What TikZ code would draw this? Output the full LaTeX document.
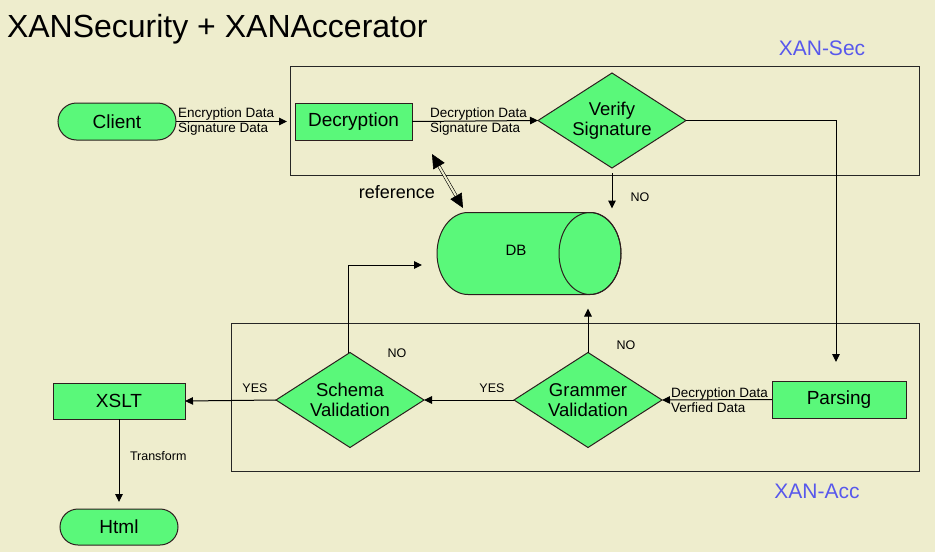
\documentclass[tikz,border=0pt]{standalone}
\usepackage{fontspec}
\setmainfont{Liberation Sans}
\usetikzlibrary{shapes.geometric,shapes.misc,arrows.meta}
\definecolor{paper}{RGB}{238,237,205}
\definecolor{boxgreen}{RGB}{90,248,122}
\definecolor{edge}{RGB}{45,30,30}
\definecolor{tagblue}{RGB}{88,88,236}
\begin{document}
\begin{tikzpicture}[x=1pt,y=-1pt,
  every node/.style={inner sep=0pt,outer sep=0pt},
  shapeline/.style={draw=edge,fill=boxgreen,line width=1pt},
  block/.style={shapeline,rectangle,font=\fontsize{19}{20}\selectfont},
  terminal/.style={shapeline,rounded rectangle,font=\fontsize{19}{20}\selectfont},
  decision/.style={shapeline,diamond,aspect=1.55,minimum width=148pt,minimum height=95pt,
    align=center,font=\fontsize{18.5}{20}\selectfont},
  frame/.style={draw=black!85,line width=1pt},
  flow/.style={draw=black,line width=1pt,-{Triangle[length=8pt,width=7.5pt]}},
  small/.style={font=\fontsize{13.5}{15}\selectfont},
  tag/.style={font=\fontsize{12.5}{14}\selectfont},
  zone/.style={font=\fontsize{21}{23}\selectfont,text=tagblue},
]
% page and frames
\fill[paper] (0,0) rectangle (935,552);
\useasboundingbox (0,0) rectangle (935,552);
\draw[frame] (290,66) rectangle (919,175);
\draw[frame] (231,323) rectangle (919,471);

% title and zone labels
\node[anchor=base west,font=\fontsize{32}{34}\selectfont] (title) at (7,37) {XANSecurity + XANAccerator};
\node[zone,anchor=base] (seclabel) at (822,55) {XAN-Sec};
\node[zone,anchor=base] (acclabel) at (817,498) {XAN-Acc};

% flow elements
\node[terminal,minimum width=118pt,minimum height=37pt] (client) at (117,121.5) {Client};
\node[block,minimum width=117pt,minimum height=37pt] (decrypt) at (353.5,121.5) {Decryption};
\node[decision] (verify) at (612,120.5) {Verify\\Signature};
\node[block,minimum width=134pt,minimum height=37pt] (parsing) at (839,399.5) {Parsing};
\node[decision] (grammar) at (588,400) {Grammer\\Validation};
\node[decision] (schema) at (350,400) {Schema\\Validation};
\node[block,minimum width=132pt,minimum height=36pt] (xslt) at (119,401) {XSLT};
\node[terminal,minimum width=118pt,minimum height=36pt] (html) at (119,527) {Html};

% database cylinder
\node[minimum width=184pt,minimum height=82pt] (db) at (529,253.5) {};
\path[shapeline] (468,212.5) -- (590,212.5) arc (-90:90:31 and 41)
  -- (468,294.5) arc (90:270:31 and 41) -- cycle;
\draw[draw=edge,line width=1pt] (590,253.5) ellipse (31 and 41);
\node[font=\fontsize{15}{17}\selectfont,anchor=base] (dblabel) at (516,255) {DB};

% connectors
\coordinate (verifyturn) at (836,362);
\coordinate (schemaend) at (422,265);
\coordinate (refa) at (432,154);
\coordinate (refb) at (463,208);

\draw[flow,shorten >=8pt] (client.east) -- (decrypt.west);
\node[small,anchor=base west] (enc1) at (178,117) {Encryption Data};
\node[small,anchor=base west] (enc2) at (178,132) {Signature Data};

\draw[flow] (decrypt.east) -- (verify.west);
\node[small,anchor=base west] (dec1) at (430,117) {Decryption Data};
\node[small,anchor=base west] (dec2) at (430,132) {Signature Data};

\draw[flow] (verify.east) -| (verifyturn);
\draw[flow,shorten <=5pt,shorten >=4pt] (verify.south) -- (verify.south |- db.north);
\node[tag,anchor=base] (no1) at (640,201) {NO};

\draw[line width=0.6pt,double=paper,double distance=2pt,
  {Triangle[length=14pt,width=13pt]}-{Triangle[length=14pt,width=13pt]}] (refa) -- (refb);
\node[font=\fontsize{18}{20}\selectfont,anchor=base east] (reflabel) at (435,198) {reference};

\draw[flow] (parsing.west) -- (grammar.east);
\node[small,anchor=base west] (par1) at (671,397) {Decryption Data};
\node[small,anchor=base west] (par2) at (671,412) {Verfied Data};

\draw[flow,shorten >=14pt] (grammar.north) -- (grammar.north |- db.south);
\node[tag,anchor=base] (no2) at (626,349) {NO};

\draw[flow] (grammar.west) -- (schema.east);
\node[tag,anchor=base] (yes1) at (492,392) {YES};

\draw[flow] ([xshift=-2pt]schema.north) |- (schemaend);
\node[tag,anchor=base] (no3) at (397,357) {NO};

\draw[flow] (schema.west) -- (xslt.east);
\node[tag,anchor=base] (yes2) at (255,392) {YES};

\draw[flow,shorten >=7pt] (xslt.south) -- (html.north);
\node[tag,anchor=base west] (trans) at (130,460) {Transform};
\end{tikzpicture}
\end{document}
